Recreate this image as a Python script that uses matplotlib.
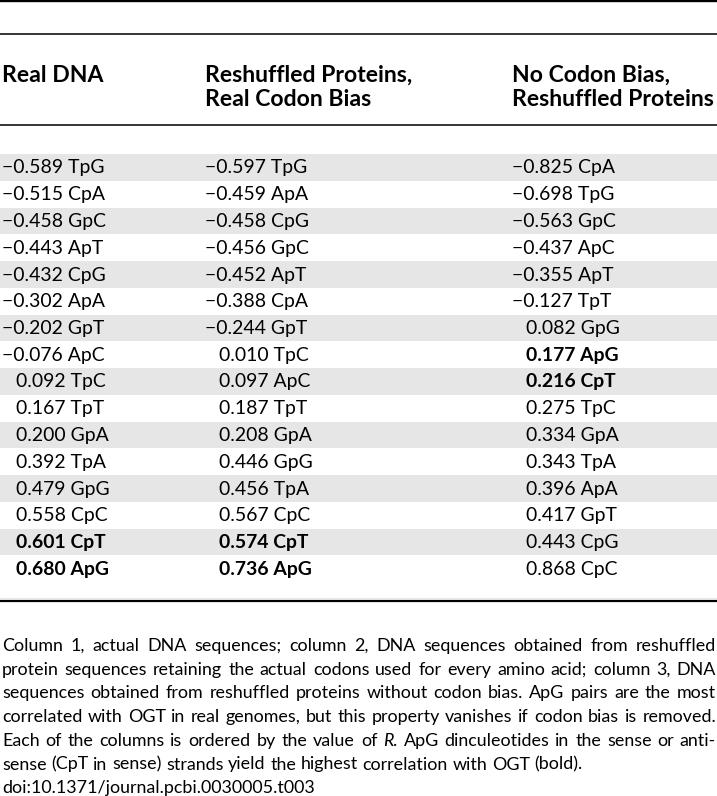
import matplotlib.pyplot as plt

FONT = ['Lato', 'DejaVu Sans']

# table data, each column is ordered by R
col1_vals = [-0.589, -0.515, -0.458, -0.443, -0.432, -0.302, -0.202, -0.076,
             0.092, 0.167, 0.200, 0.392, 0.479, 0.558, 0.601, 0.680]
col1_pairs = ['TpG', 'CpA', 'GpC', 'ApT', 'CpG', 'ApA', 'GpT', 'ApC',
              'TpC', 'TpT', 'GpA', 'TpA', 'GpG', 'CpC', 'CpT', 'ApG']
col2_vals = [-0.597, -0.459, -0.458, -0.456, -0.452, -0.388, -0.244, 0.010,
             0.097, 0.187, 0.208, 0.446, 0.456, 0.567, 0.574, 0.736]
col2_pairs = ['TpG', 'ApA', 'CpG', 'GpC', 'ApT', 'CpA', 'GpT', 'TpC',
              'ApC', 'TpT', 'GpA', 'GpG', 'TpA', 'CpC', 'CpT', 'ApG']
col3_vals = [-0.825, -0.698, -0.563, -0.437, -0.355, -0.127, 0.082, 0.177,
             0.216, 0.275, 0.334, 0.343, 0.396, 0.417, 0.443, 0.868]
col3_pairs = ['CpA', 'TpG', 'GpC', 'ApC', 'ApT', 'TpT', 'GpG', 'ApG',
              'CpT', 'TpC', 'GpA', 'TpA', 'ApA', 'GpT', 'CpG', 'CpC']
bold_pairs = ['ApG', 'CpT']

headers = [['Real DNA'],
           ['Reshuffled Proteins,', 'Real Codon Bias'],
           ['No Codon Bias,', 'Reshuffled Proteins']]

# caption lines; *R* marks the italic R
caption_lines = [
    'Column 1, actual DNA sequences; column 2, DNA sequences obtained from reshuffled',
    'protein sequences retaining the actual codons used for every amino acid; column 3, DNA',
    'sequences obtained from reshuffled proteins without codon bias. ApG pairs are the most',
    'correlated with OGT in real genomes, but this property vanishes if codon bias is removed.',
    'Each of the columns is ordered by the value of *R*. ApG dinculeotides in the sense or anti-',
    'sense (CpT in sense) strands yield the highest correlation with OGT (bold).',
    'doi:10.1371/journal.pcbi.0030005.t003',
]
n_justified = 5

W, H = 717, 796
fig = plt.figure(figsize=(W / 100, H / 100), dpi=100)
ax = fig.add_axes([0, 0, 1, 1])
ax.set_xlim(0, W)
ax.set_ylim(H, 0)
ax.axis('off')
renderer = fig.canvas.get_renderer()


def text_width(s, size, weight='normal', style='normal'):
    t = ax.text(0, 0, s, fontsize=size, family=FONT,
                fontweight=weight, fontstyle=style)
    w = t.get_window_extent(renderer).width
    t.remove()
    return w


# font sizes fitted to widths measured on the reference
body_size = 10 * 102 / text_width('\u22120.589 TpG', 10)
head_size = 10 * 203 / text_width('Reshuffled Proteins', 10, 'bold')
cap_size = 10 * 293 / text_width('correlated with OGT in real genomes,', 10)

# ============================
# rules and shaded rows
# ============================
row0, pitch = 167.5, 26.75
n_rows = len(col1_vals)
for i in range(0, n_rows, 2):
    y = row0 + i * pitch
    ax.axhspan(y - pitch / 2, y + pitch / 2, color='#e6e6e6', lw=0)

ax.axhline(1.2, color='black', lw=1.7)
ax.axhline(34, color='black', lw=1.1)
ax.axhline(125, color='black', lw=1.1)
ax.axhline(597.5, color='#e8e8e8', lw=0.8)
ax.axhline(601, color='black', lw=1.6)

# ============================
# header
# ============================
col_x = [2, 205, 512]
for x, lines in zip(col_x, headers):
    for k, line in enumerate(lines):
        ax.text(x, 82 + k * 24.5, line, fontsize=head_size, family=FONT,
                fontweight='bold', va='baseline', ha='left')

# ============================
# body
# ============================
indent = 14
columns = [(col1_vals, col1_pairs), (col2_vals, col2_pairs),
           (col3_vals, col3_pairs)]
for x, (vals, pairs) in zip(col_x, columns):
    for i, (v, p) in enumerate(zip(vals, pairs)):
        s = f'{abs(v):.3f} {p}'
        if v < 0:
            s = '\u2212' + s
            xx = x
        else:
            xx = x + indent
        ax.text(xx, row0 + i * pitch + 6, s, fontsize=body_size, family=FONT,
                fontweight='bold' if p in bold_pairs else 'normal',
                va='baseline', ha='left')

# ============================
# caption, justified like the journal layout
# ============================
cap_left, cap_right = 2, 716
base0, lead = 651, 23.7
for k, line in enumerate(caption_lines):
    y = base0 + k * lead
    words = line.split(' ')
    # each word is a list of (text, style) pieces
    pieces = []
    for w in words:
        if '*' in w:
            a, b, c = w.split('*')
            segs = [(a, 'normal'), (b, 'italic'), (c, 'normal')]
            pieces.append([s for s in segs if s[0]])
        else:
            pieces.append([(w, 'normal')])
    widths = [[text_width(t, cap_size, style=st) for t, st in wp]
              for wp in pieces]
    total = sum(sum(ws) for ws in widths)
    if k < n_justified:
        gap = (cap_right - cap_left - total) / (len(words) - 1)
    else:
        gap = text_width('a a', cap_size) - 2 * text_width('a', cap_size)
    x = cap_left
    for wp, ws in zip(pieces, widths):
        for (t, st), w in zip(wp, ws):
            ax.text(x, y, t, fontsize=cap_size, family=FONT, fontstyle=st,
                    va='baseline', ha='left')
            x += w
        x += gap

plt.savefig('out.png', dpi=100)
